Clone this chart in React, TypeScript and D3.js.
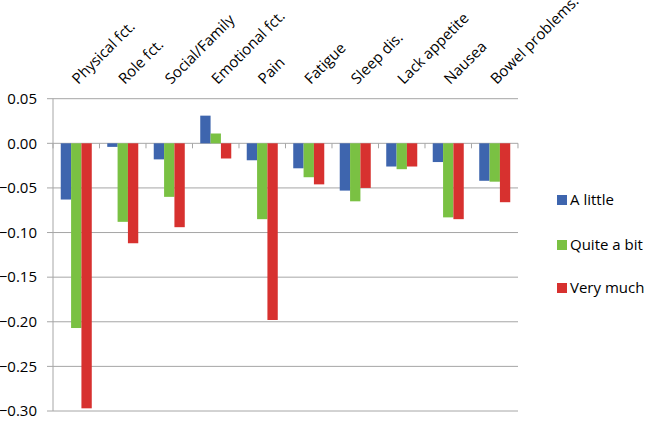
import React, { useEffect, useRef } from "react";
import * as d3 from "d3";

const categories = [
  "Physical fct.",
  "Role fct.",
  "Social/Family",
  "Emotional fct.",
  "Pain",
  "Fatigue",
  "Sleep dis.",
  "Lack appetite",
  "Nausea",
  "Bowel problems.",
];

const seriesNames = ["A little", "Quite a bit", "Very much"];
const seriesColors = ["#3E65AE", "#7AC143", "#D7312F"];

const aLittle = [-0.063, -0.004, -0.018, 0.031, -0.019, -0.028, -0.053, -0.026, -0.021, -0.042];
const quiteABit = [-0.207, -0.088, -0.06, 0.011, -0.085, -0.038, -0.065, -0.029, -0.083, -0.043];
const veryMuch = [-0.297, -0.112, -0.094, -0.017, -0.198, -0.046, -0.05, -0.026, -0.085, -0.066];

const yTicks = [0.05, 0, -0.05, -0.1, -0.15, -0.2, -0.25, -0.3];

const App: React.FC = () => {
  const svgRef = useRef<SVGSVGElement>(null);

  useEffect(() => {
    if (!svgRef.current) return;
    const svg = d3.select(svgRef.current);
    svg.selectAll("*").remove();

    const width = 646;
    const height = 421;
    const left = 53;
    const right = 518;
    const font = "'Open Sans', Lato, sans-serif";
    const series = [aLittle, quiteABit, veryMuch];

    svg.attr("width", width).attr("height", height);

    const y = d3.scaleLinear().domain([-0.3, 0.05]).range([411, 98.7]);
    const x = d3
      .scaleBand<string>()
      .domain(categories)
      .range([left, right])
      .paddingInner(0.333)
      .paddingOuter(0.1667);
    const xs = d3
      .scaleBand<number>()
      .domain([0, 1, 2])
      .range([0, x.bandwidth()]);

    // gridlines + y tick marks
    svg
      .append("g")
      .selectAll("line")
      .data(yTicks)
      .enter()
      .append("line")
      .attr("x1", left - 6)
      .attr("x2", right)
      .attr("y1", (d) => y(d))
      .attr("y2", (d) => y(d))
      .attr("stroke", "#a6a6a6")
      .attr("stroke-width", 1);

    svg
      .append("g")
      .selectAll("text")
      .data(yTicks)
      .enter()
      .append("text")
      .attr("x", 37)
      .attr("y", (d) => y(d))
      .attr("dy", "0.35em")
      .attr("text-anchor", "end")
      .attr("font-family", font)
      .attr("font-size", 15)
      .attr("fill", "#000")
      .text((d) => d3.format(".2f")(d));

    // bars
    series.forEach((vals, si) => {
      svg
        .append("g")
        .selectAll("rect")
        .data(vals)
        .enter()
        .append("rect")
        .attr("x", (_, i) => (x(categories[i]) ?? 0) + (xs(si) ?? 0))
        .attr("width", xs.bandwidth())
        .attr("y", (d) => y(Math.max(0, d)))
        .attr("height", (d) => Math.abs(y(d) - y(0)))
        .attr("fill", seriesColors[si]);
    });

    // y axis line
    svg
      .append("line")
      .attr("x1", left)
      .attr("x2", left)
      .attr("y1", y(0.05))
      .attr("y2", y(-0.3))
      .attr("stroke", "#a6a6a6");

    // category axis at zero with downward ticks
    const step = x.step();
    const bounds = d3.range(categories.length + 1).map((i) => left + i * step);
    svg
      .append("g")
      .selectAll("line")
      .data(bounds)
      .enter()
      .append("line")
      .attr("x1", (d) => d)
      .attr("x2", (d) => d)
      .attr("y1", y(0))
      .attr("y2", y(0) + 5)
      .attr("stroke", "#a6a6a6");

    // category labels
    svg
      .append("g")
      .selectAll("text")
      .data(categories)
      .enter()
      .append("text")
      .attr("transform", (d) => {
        const cx = (x(d) ?? 0) + x.bandwidth() / 2 + 2;
        return `translate(${cx},85) rotate(-45)`;
      })
      .attr("font-family", font)
      .attr("font-size", 15)
      .attr("fill", "#000")
      .text((d) => d);

    // legend
    const legend = svg
      .append("g")
      .selectAll("g")
      .data(seriesNames)
      .enter()
      .append("g")
      .attr("transform", (_, i) => `translate(557,${[200, 245, 288][i]})`);
    legend
      .append("rect")
      .attr("x", 0)
      .attr("y", -5)
      .attr("width", 10)
      .attr("height", 10)
      .attr("fill", (_, i) => seriesColors[i]);
    legend
      .append("text")
      .attr("x", 13)
      .attr("y", 0)
      .attr("dy", "0.35em")
      .attr("font-family", font)
      .attr("font-size", 15)
      .attr("fill", "#000")
      .text((d) => d);
  }, []);

  return (
    <svg
      ref={svgRef}
      style={{ position: "absolute", left: 0, top: 0, background: "#fff" }}
    />
  );
};

export default App;
